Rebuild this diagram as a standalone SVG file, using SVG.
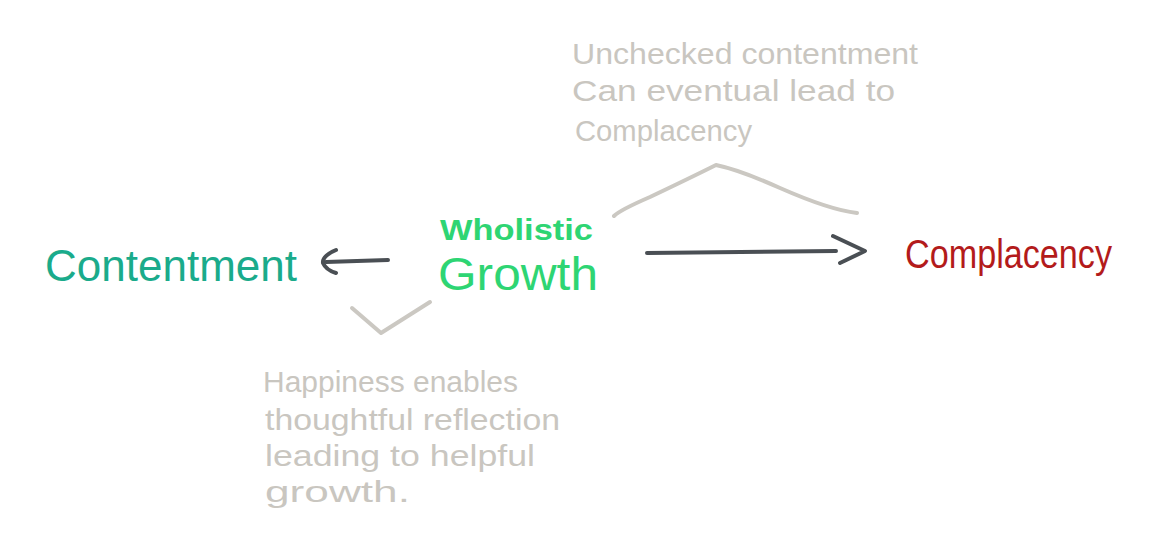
<svg xmlns="http://www.w3.org/2000/svg" width="1160" height="548" viewBox="0 0 1160 548">
<style>
.node text{font-family:"Liberation Sans","DejaVu Sans",sans-serif;}
.note{fill:#c9c6c0;font-size:30px;}
.arrow{fill:none;stroke:#4a4f54;stroke-width:4;stroke-linecap:round;stroke-linejoin:round;}
.bracket{fill:none;stroke:#cbc8c2;stroke-width:4;stroke-linecap:round;stroke-linejoin:round;}
</style>
<rect width="1160" height="548" fill="#ffffff"/>
<g id="connectors">
<path class="arrow" d="M388 260 L326 262"/>
<path class="arrow" d="M336 250 Q322 256 323 263 Q326 270 336 273"/>
<path class="arrow" d="M647 253 L836 251"/>
<path class="arrow" d="M833 236 L865 251 L840 263"/>
<path class="bracket" d="M614 216 Q620 210 650 197 Q690 178 716 165 Q740 170 780 188 Q830 210 857 213"/>
<path class="bracket" d="M352 308 L381 333 L430 302"/>
</g>
<g id="node-contentment" class="node">
<text x="45" y="281" font-size="44" fill="#1aab8b" textLength="252" lengthAdjust="spacingAndGlyphs">Contentment</text>
</g>
<g id="node-wholistic-growth" class="node">
<text x="440" y="240" font-size="30" font-weight="bold" fill="#2ed573" textLength="153" lengthAdjust="spacingAndGlyphs">Wholistic</text>
<text x="438" y="290" font-size="46" fill="#2ed573" textLength="160" lengthAdjust="spacingAndGlyphs">Growth</text>
</g>
<g id="node-complacency" class="node">
<text x="905" y="268" font-size="40" fill="#b31b1b" textLength="207" lengthAdjust="spacingAndGlyphs">Complacency</text>
</g>
<g id="note-top" class="node">
<text class="note" x="572" y="64" textLength="346" lengthAdjust="spacingAndGlyphs">Unchecked contentment</text>
<text class="note" x="572" y="101" textLength="323" lengthAdjust="spacingAndGlyphs">Can eventual lead to</text>
<text class="note" x="575" y="141" textLength="177" lengthAdjust="spacingAndGlyphs">Complacency</text>
</g>
<g id="note-bottom" class="node">
<text class="note" x="263" y="392" textLength="255" lengthAdjust="spacingAndGlyphs">Happiness enables</text>
<text class="note" x="265" y="430" textLength="295" lengthAdjust="spacingAndGlyphs">thoughtful reflection</text>
<text class="note" x="265" y="466" textLength="270" lengthAdjust="spacingAndGlyphs">leading to helpful</text>
<text class="note" x="265" y="502" textLength="145" lengthAdjust="spacingAndGlyphs">growth.</text>
</g>
</svg>
